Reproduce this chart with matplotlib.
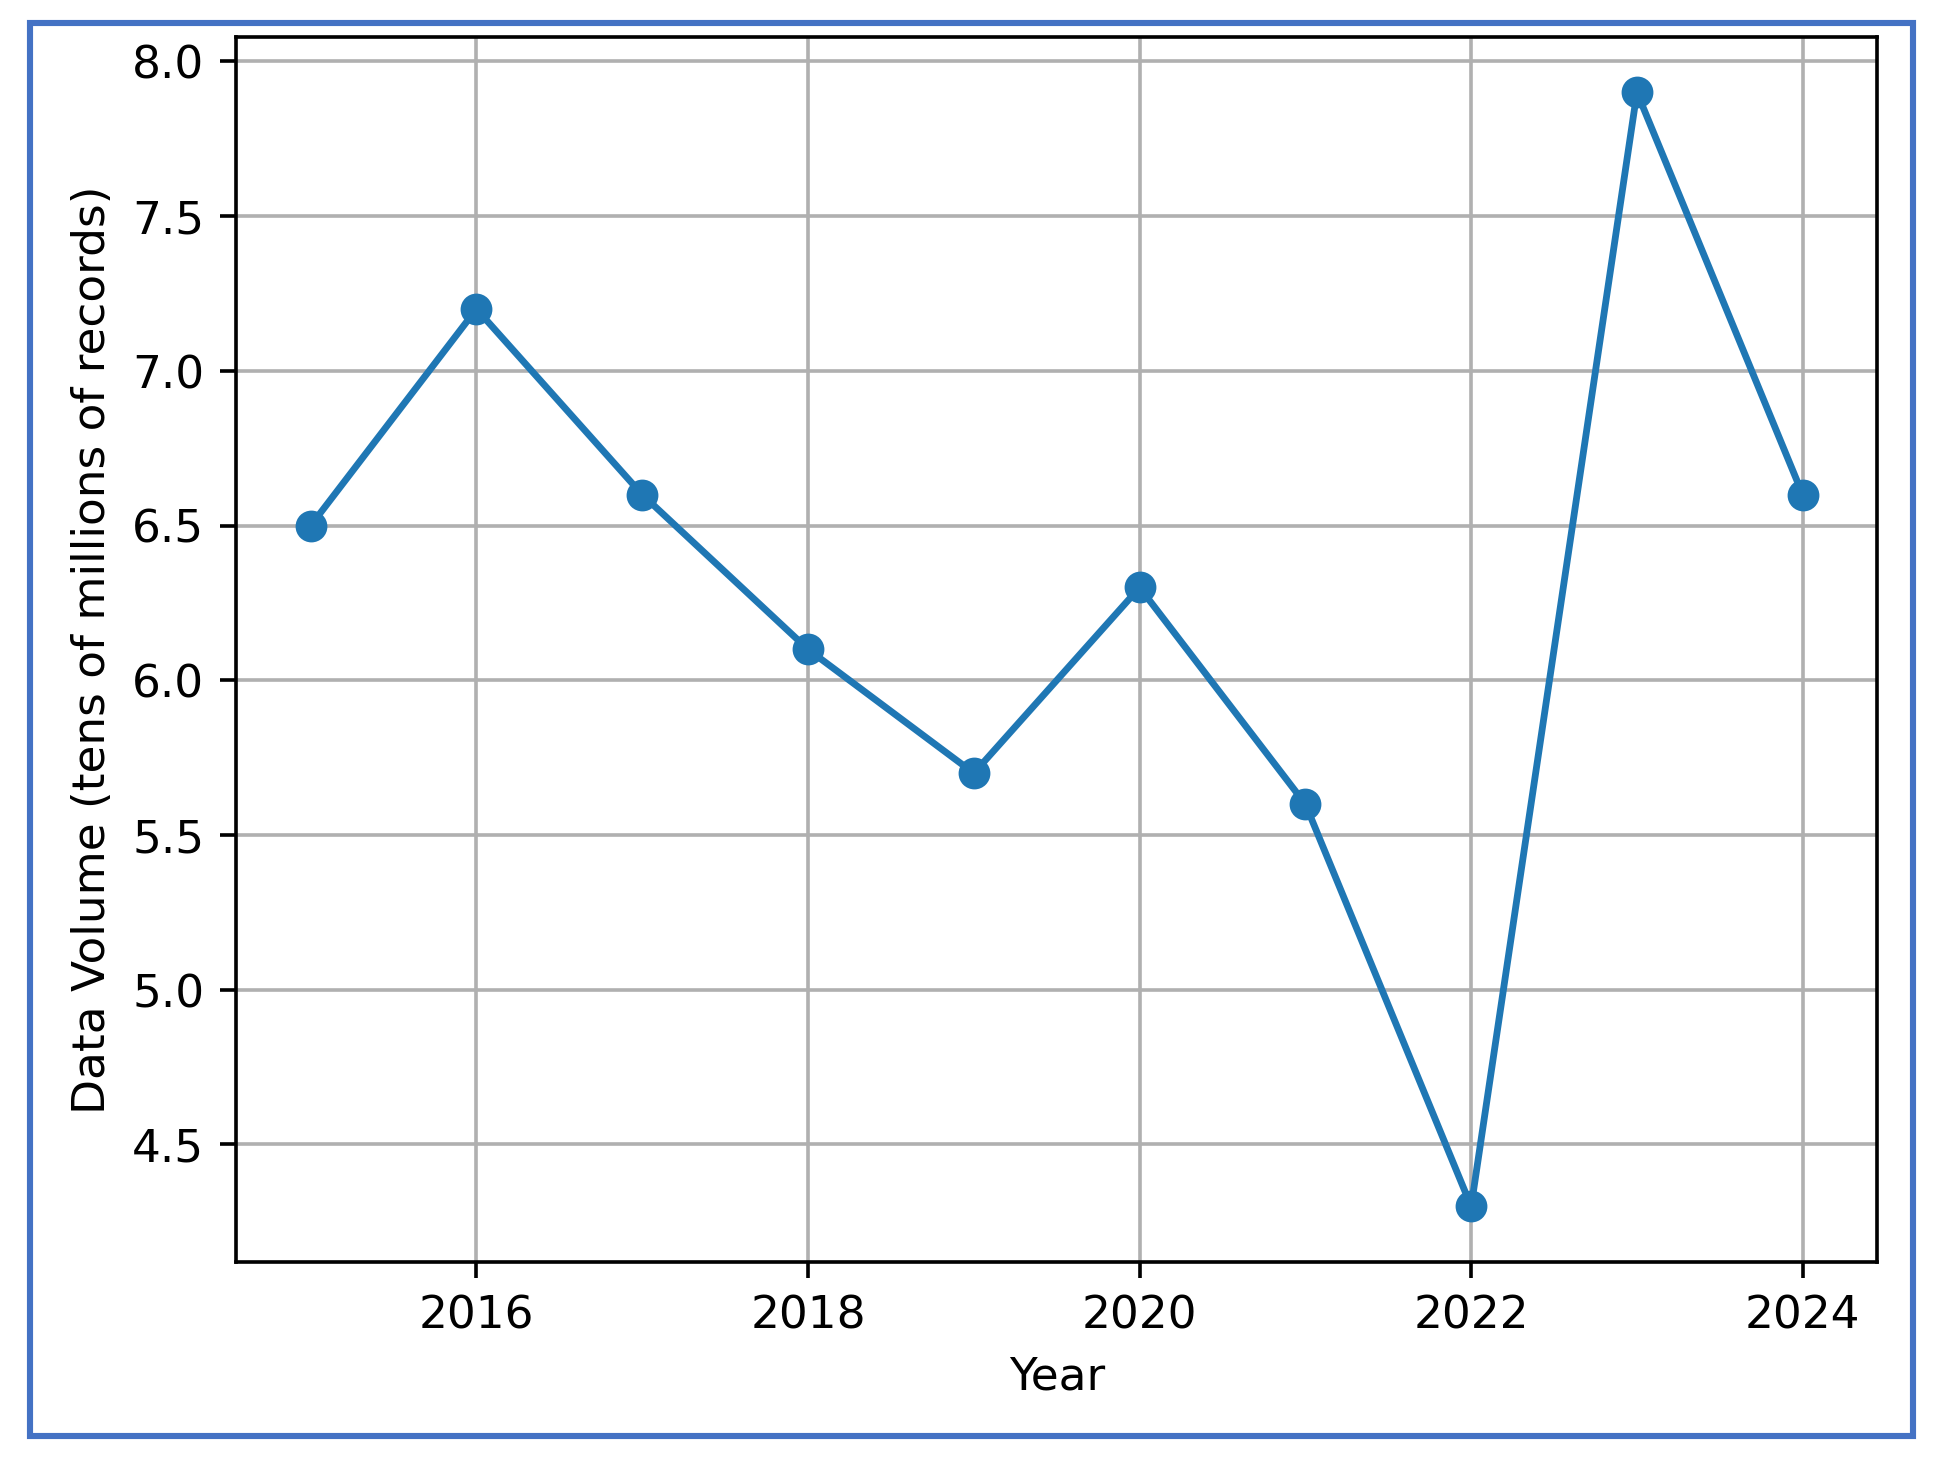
import matplotlib
matplotlib.use("Agg")
import matplotlib.pyplot as plt
from matplotlib.patches import Rectangle

years = [2015, 2016, 2017, 2018, 2019, 2020, 2021, 2022, 2023, 2024]
volume = [6.5, 7.2, 6.6, 6.1, 5.7, 6.3, 5.6, 4.3, 7.9, 6.6]

DPI = 327
fig = plt.figure(figsize=(1938.4 / DPI, 1471.4 / DPI), dpi=DPI)
ax = fig.add_axes([0.1218, 0.142, 0.9685 - 0.1218, 0.9748 - 0.142])

ax.plot(years, volume, marker='o', color='#1f77b4')
ax.set_xlabel('Year')
ax.set_ylabel('Data Volume (tens of millions of records)')
ax.grid(True)

# blue frame around the whole picture
frame = Rectangle((0.0155, 0.0238), 0.9871 - 0.0155, 0.9844 - 0.0238,
                  transform=fig.transFigure, fill=False,
                  edgecolor='#4472C4', linewidth=1.35)
fig.patches.append(frame)

fig.savefig('out.png', dpi=DPI)
